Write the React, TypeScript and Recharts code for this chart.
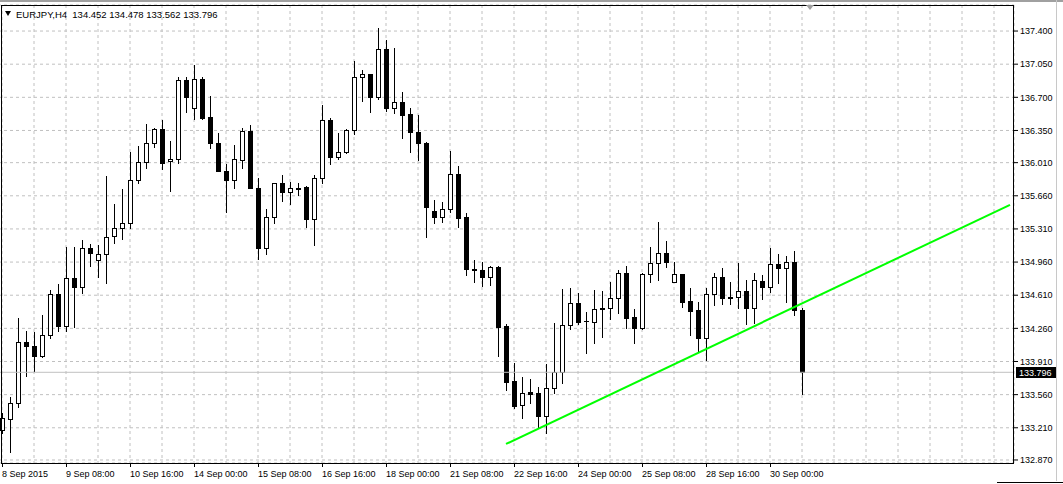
import React from 'react'
import { ComposedChart, Bar, XAxis, YAxis, CartesianGrid, ReferenceLine } from 'recharts'

// EURJPY H4, 8 Sep 2015 00:00 .. 30 Sep 2015 16:00
const opens = [
  133.186, 133.299, 133.468, 134.112, 134.077, 133.971, 134.189, 134.619, 134.288, 134.788,
  134.693, 135.105, 134.981, 135.045, 135.235, 135.323, 135.369, 135.823, 136.013, 136.213,
  136.361, 136.023, 136.044, 136.879, 136.583, 136.889, 136.488, 136.213, 135.925, 135.823,
  136.037, 136.34, 135.738, 135.105, 135.439, 135.791, 135.696, 135.738, 135.749, 135.411,
  135.844, 136.46, 136.073, 136.125, 136.354, 136.91, 136.942, 136.706, 137.206, 136.59,
  136.653, 136.52, 136.337, 136.213, 135.499, 135.439, 135.516, 135.89, 135.432, 134.883,
  134.876, 134.805, 134.911, 134.284, 133.704, 133.45, 133.584, 133.573, 133.338, 133.626,
  133.796, 134.295, 134.524, 134.337, 134.33, 134.46, 134.471, 134.577, 134.841, 134.376,
  134.26, 134.834, 134.953, 135.052, 134.746, 134.83, 134.548, 134.454, 134.154, 134.619,
  134.798, 134.594, 134.594, 134.654, 134.471, 134.76, 134.7, 134.936, 134.901, 134.964,
  134.452,
]
const highs = [
  133.369, 133.538, 134.365, 134.232, 134.218, 134.401, 134.665, 134.724, 135.122, 135.115,
  135.193, 135.147, 135.14, 135.868, 135.573, 135.728, 136.122, 136.185, 136.418, 136.372,
  136.46, 136.238, 136.91, 136.91, 137.041, 136.91, 136.713, 136.319, 135.995, 136.196,
  136.375, 136.407, 135.844, 135.52, 135.8, 135.879, 135.809, 135.798, 135.763, 135.879,
  136.618, 136.477, 136.319, 136.361, 137.086, 136.988, 136.95, 137.428, 137.305, 137.217,
  136.752, 136.583, 136.513, 136.231, 135.615, 135.597, 136.132, 135.978, 135.474, 134.981,
  134.957, 134.922, 134.915, 134.306, 133.89, 133.749, 133.721, 133.644, 133.883, 134.313,
  134.675, 134.682, 134.636, 134.436, 134.665, 134.654, 134.753, 134.876, 134.918, 134.46,
  134.841, 135.122, 135.386, 135.186, 134.964, 134.834, 134.682, 134.541, 134.689, 134.841,
  134.901, 134.746, 134.946, 134.77, 134.841, 134.823, 135.105, 135.045, 135.024, 135.077,
  134.478,
]
const lows = [
  133.151, 132.957, 133.426, 133.76, 133.813, 133.954, 134.161, 134.235, 134.232, 134.277,
  134.636, 134.922, 134.805, 134.735, 135.157, 135.2, 135.323, 135.791, 135.956, 136.178,
  135.939, 135.714, 136.002, 136.548, 136.467, 136.467, 136.161, 135.925, 135.485, 135.738,
  135.956, 135.738, 134.988, 135.045, 135.369, 135.604, 135.573, 135.668, 135.334, 135.14,
  135.798, 135.992, 136.044, 136.108, 136.308, 136.664, 136.548, 136.678, 136.555, 136.53,
  136.266, 136.125, 136.037, 135.228, 135.369, 135.386, 135.492, 135.334, 134.823, 134.753,
  134.707, 134.717, 133.968, 133.609, 133.415, 133.309, 133.475, 133.204, 133.151, 133.58,
  133.679, 134.253, 134.306, 133.996, 134.101, 134.172, 134.355, 134.425, 134.26, 134.101,
  134.255, 134.753, 134.77, 134.911, 134.746, 134.482, 134.189, 134.013, 133.926, 134.506,
  134.513, 134.513, 134.471, 134.302, 134.32, 134.57, 134.647, 134.742, 134.541, 134.401,
  133.562,
]
const closes = [
  133.309, 133.468, 134.112, 134.077, 133.971, 134.189, 134.619, 134.288, 134.788, 134.693,
  135.105, 135.052, 135.045, 135.228, 135.323, 135.369, 135.823, 136.013, 136.213, 136.361,
  136.009, 136.044, 136.879, 136.706, 136.889, 136.484, 136.213, 135.925, 135.823, 136.044,
  136.34, 135.738, 135.105, 135.439, 135.791, 135.696, 135.745, 135.74, 135.411, 135.844,
  136.46, 136.073, 136.125, 136.354, 136.91, 136.942, 136.706, 137.206, 136.59, 136.653,
  136.513, 136.337, 136.213, 135.545, 135.439, 135.516, 135.89, 135.428, 134.883, 134.88,
  134.805, 134.911, 134.277, 133.697, 133.44, 133.58, 133.563, 133.338, 133.626, 133.796,
  134.295, 134.524, 134.33, 134.333, 134.46, 134.471, 134.577, 134.841, 134.373, 134.26,
  134.834, 134.953, 135.052, 134.964, 134.83, 134.541, 134.446, 134.154, 134.619, 134.798,
  134.577, 134.577, 134.654, 134.471, 134.77, 134.693, 134.936, 134.901, 134.964, 134.454,
  133.796,
]

// one label every 8 bars
const timeLabels = [
  '8 Sep 2015', '9 Sep 08:00', '10 Sep 16:00', '14 Sep 00:00', '15 Sep 08:00', '16 Sep 16:00',
  '18 Sep 00:00', '21 Sep 08:00', '22 Sep 16:00', '24 Sep 00:00', '25 Sep 08:00', '28 Sep 16:00',
  '30 Sep 00:00',
]
const priceTicks = [
  137.4, 137.05, 136.7, 136.35, 136.01, 135.66, 135.31, 134.96, 134.61, 134.26, 133.91, 133.56,
  133.21, 132.87,
]
const priceDomain = [132.838, 137.675]
const trendStart = { bar: 63, price: 133.039 }
const trendEnd = { bar: 126, price: 135.565 }
const lastPrice = 133.796
const header = 'EURJPY,H4  134.452 134.478 133.562 133.796'
const slotCount = 127 // bars + empty space on the right

const FONT = '"Liberation Sans", Arial, sans-serif'

const rows = Array.from({ length: slotCount }, (_, i) =>
  i < opens.length
    ? { i, o: opens[i], h: highs[i], l: lows[i], c: closes[i], range: [lows[i], highs[i]] }
    : { i }
)

function Candle(props: any) {
  const { x, y, width, height, payload } = props
  if (!payload || payload.o == null) return <g />
  const { o, h, l, c } = payload
  const yTop = Math.min(y, y + height)
  const hh = Math.abs(height)
  const k = h === l ? 0 : hh / (h - l)
  const py = (v: number) => yTop + (h - v) * k
  const cx = Math.round(x + width / 2)
  const wickTop = Math.round(py(h))
  const wickBot = Math.round(py(l))
  const top = Math.round(py(Math.max(o, c)))
  const bot = Math.round(py(Math.min(o, c)))
  const up = c >= o
  return (
    <g>
      <rect x={cx} y={wickTop} width={1} height={Math.max(1, wickBot - wickTop + 1)} fill="#000" />
      {up ? (
        <rect
          x={cx - 1.5}
          y={top + 0.5}
          width={4}
          height={Math.max(1, bot - top)}
          fill="#fff"
          stroke="#000"
          strokeWidth={1}
        />
      ) : (
        <rect x={cx - 2} y={top} width={5} height={Math.max(1, bot - top + 1)} fill="#000" />
      )}
    </g>
  )
}

function TimeTick(props: any) {
  const { x, y, payload } = props
  const i = Number(payload.value)
  if (i % 8 !== 0 || !timeLabels[i / 8]) return <g />
  const px = Math.round(x)
  return (
    <g>
      <line x1={px + 0.5} x2={px + 0.5} y1={y} y2={y + 4} stroke="#000" />
      <text x={px} y={y + 14} fontSize={9} fontFamily={FONT} fill="#000">
        {timeLabels[i / 8]}
      </text>
    </g>
  )
}

function PriceTag(props: any) {
  const vb = props.viewBox
  if (!vb) return null
  const left = vb.x + vb.width + 2
  const ly = Math.round(vb.y)
  return (
    <g>
      <rect x={left} y={ly - 5} width={40} height={11} fill="#000" />
      <text x={left + 3} y={ly + 4} fontSize={9} fontFamily={FONT} fill="#fff">
        {lastPrice.toFixed(3)}
      </text>
    </g>
  )
}

export default function App() {
  return (
    <div style={{ position: 'absolute', left: 0, top: 0, width: 1063, height: 484, background: '#fff' }}>
      <ComposedChart
        width={1063}
        height={484}
        data={rows}
        margin={{ top: 5, right: 0, bottom: 0, left: -2 }}
      >
        <CartesianGrid stroke="#c0c0c0" strokeDasharray="3 3" />
        <XAxis
          dataKey="i"
          type="category"
          interval={3}
          height={21}
          axisLine={false}
          tickLine={false}
          tickSize={0}
          tickMargin={0}
          tick={<TimeTick />}
        />
        <YAxis
          orientation="right"
          type="number"
          width={49}
          domain={priceDomain}
          allowDataOverflow
          ticks={priceTicks}
          interval={0}
          axisLine={false}
          tickLine={{ stroke: '#000' }}
          tickSize={4}
          tickMargin={2}
          tickFormatter={(v: number) => v.toFixed(3)}
          tick={{ fontSize: 9, fill: '#000', fontFamily: FONT }}
        />
        <ReferenceLine y={lastPrice} stroke="#c0c0c0" label={(p: any) => <PriceTag {...p} />} />
        <Bar dataKey="range" shape={<Candle />} isAnimationActive={false} />
        <ReferenceLine
          segment={[
            { x: trendStart.bar, y: trendStart.price },
            { x: trendEnd.bar, y: trendEnd.price },
          ]}
          stroke="#00ff00"
          strokeWidth={2}
          ifOverflow="visible"
        />
      </ComposedChart>
      <svg
        width={1063}
        height={484}
        style={{ position: 'absolute', left: 0, top: 0, pointerEvents: 'none' }}
      >
        <rect x={0} y={0} width={1063} height={2} fill="#a0a0a0" />
        <rect x={1056} y={0} width={1} height={481} fill="#c8c8c8" />
        <rect x={997} y={482} width={66} height={1} fill="#000" />
        <rect x={1.5} y={5.5} width={1012} height={458} fill="none" stroke="#000" />
        <polygon points="5,11 11,11 8,16" fill="#000" />
        <polygon points="806,5 814,5 810,10" fill="#a0a0a0" />
        <text x={16} y={18} fontSize={9.5} fontFamily={FONT} fill="#000" style={{ whiteSpace: 'pre' }}>
          {header}
        </text>
      </svg>
    </div>
  )
}
